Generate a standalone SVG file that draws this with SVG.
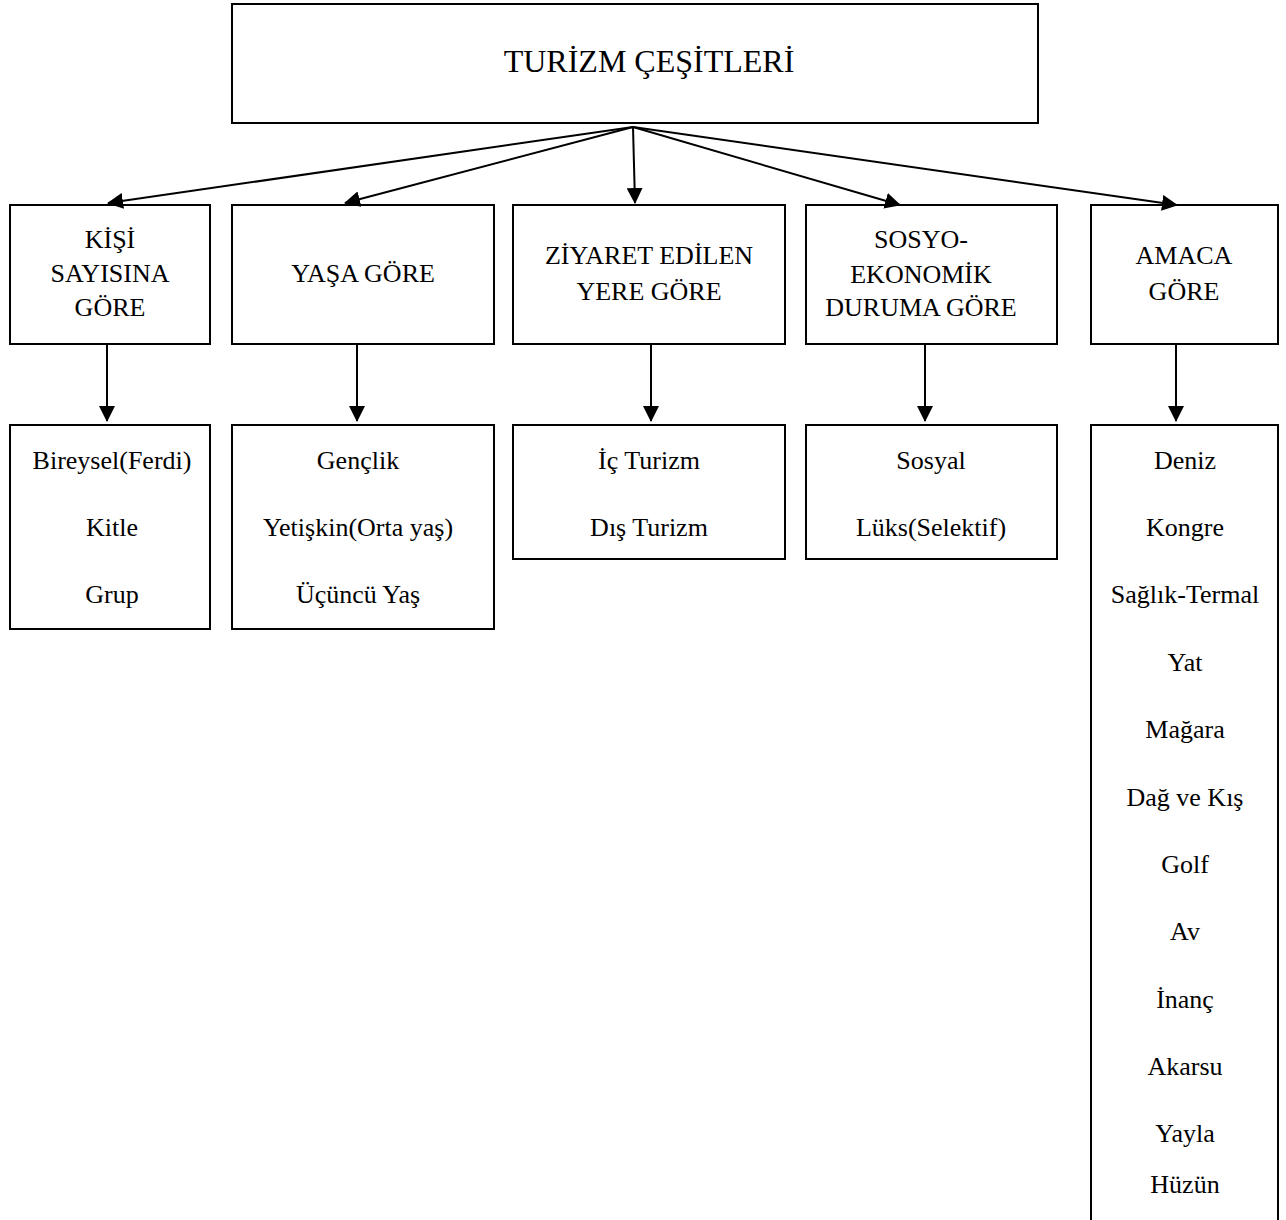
<svg xmlns="http://www.w3.org/2000/svg" width="1286" height="1220" viewBox="0 0 1286 1220" font-family="'Liberation Serif', 'Times New Roman', Times, serif">
  <style>
    .box { fill: #ffffff; stroke: #000000; stroke-width: 2; }
    text { font-family: 'Liberation Serif', 'Times New Roman', Times, serif; font-size: 26px; fill: #000000; text-anchor: middle; }
    text.title { font-size: 32px; }
    .edge { stroke: #000000; stroke-width: 2; fill: none; marker-end: url(#arrow); }
  </style>
  <defs>
    <marker id="arrow" markerUnits="userSpaceOnUse" markerWidth="16" markerHeight="16" viewBox="0 0 16 16" refX="15" refY="8" orient="auto">
      <path d="M0,0 L16,8 L0,16 z" fill="#000000"/>
    </marker>
  </defs>
  <rect width="1286" height="1220" fill="#ffffff"/>

  <!-- root -->
  <g id="turizm-cesitleri">
    <rect class="box" x="232" y="4" width="806" height="119"/>
    <text class="title" x="649" y="72">TURİZM ÇEŞİTLERİ</text>
  </g>

  <!-- first level -->
  <g id="kisi-sayisina-gore">
    <rect class="box" x="10" y="205" width="200" height="139"/>
    <text x="110" y="248">KİŞİ</text>
    <text x="110" y="282">SAYISINA</text>
    <text x="110" y="316">GÖRE</text>
  </g>
  <g id="yasa-gore">
    <rect class="box" x="232" y="205" width="262" height="139"/>
    <text x="363" y="282">YAŞA GÖRE</text>
  </g>
  <g id="ziyaret-edilen-yere-gore">
    <rect class="box" x="513" y="205" width="272" height="139"/>
    <text x="649" y="264">ZİYARET EDİLEN</text>
    <text x="649" y="300">YERE GÖRE</text>
  </g>
  <g id="sosyo-ekonomik-duruma-gore">
    <rect class="box" x="806" y="205" width="251" height="139"/>
    <text x="921" y="248">SOSYO-</text>
    <text x="921" y="283">EKONOMİK</text>
    <text x="921" y="316">DURUMA GÖRE</text>
  </g>
  <g id="amaca-gore">
    <rect class="box" x="1091" y="205" width="187" height="139"/>
    <text x="1184" y="264">AMACA</text>
    <text x="1184" y="300">GÖRE</text>
  </g>

  <!-- second level -->
  <g id="kisi-list">
    <rect class="box" x="10" y="425" width="200" height="204"/>
    <text x="112" y="469">Bireysel(Ferdi)</text>
    <text x="112" y="536">Kitle</text>
    <text x="112" y="603">Grup</text>
  </g>
  <g id="yas-list">
    <rect class="box" x="232" y="425" width="262" height="204"/>
    <text x="358" y="469">Gençlik</text>
    <text x="358" y="536">Yetişkin(Orta yaş)</text>
    <text x="358" y="603">Üçüncü Yaş</text>
  </g>
  <g id="yer-list">
    <rect class="box" x="513" y="425" width="272" height="134"/>
    <text x="649" y="469">İç Turizm</text>
    <text x="649" y="536">Dış Turizm</text>
  </g>
  <g id="sosyo-list">
    <rect class="box" x="806" y="425" width="251" height="134"/>
    <text x="931" y="469">Sosyal</text>
    <text x="931" y="536">Lüks(Selektif)</text>
  </g>
  <g id="amac-list">
    <path class="box" d="M1091,1222 L1091,425 L1278,425 L1278,1222"/>
    <text x="1185" y="469">Deniz</text>
    <text x="1185" y="536">Kongre</text>
    <text x="1185" y="603">Sağlık-Termal</text>
    <text x="1185" y="671">Yat</text>
    <text x="1185" y="738">Mağara</text>
    <text x="1185" y="806">Dağ ve Kış</text>
    <text x="1185" y="873">Golf</text>
    <text x="1185" y="940">Av</text>
    <text x="1185" y="1008">İnanç</text>
    <text x="1185" y="1075">Akarsu</text>
    <text x="1185" y="1142">Yayla</text>
    <text x="1185" y="1193">Hüzün</text>
  </g>

  <!-- connectors -->
  <g id="connectors">
    <line class="edge" x1="633" y1="127" x2="108" y2="203"/>
    <line class="edge" x1="633" y1="127" x2="345" y2="203"/>
    <line class="edge" x1="633" y1="127" x2="635" y2="203"/>
    <line class="edge" x1="633" y1="127" x2="900" y2="205"/>
    <line class="edge" x1="633" y1="127" x2="1177" y2="205"/>
    <line class="edge" x1="107" y1="344" x2="107" y2="421"/>
    <line class="edge" x1="357" y1="344" x2="357" y2="421"/>
    <line class="edge" x1="651" y1="344" x2="651" y2="421"/>
    <line class="edge" x1="925" y1="344" x2="925" y2="421"/>
    <line class="edge" x1="1176" y1="344" x2="1176" y2="421"/>
  </g>
</svg>
